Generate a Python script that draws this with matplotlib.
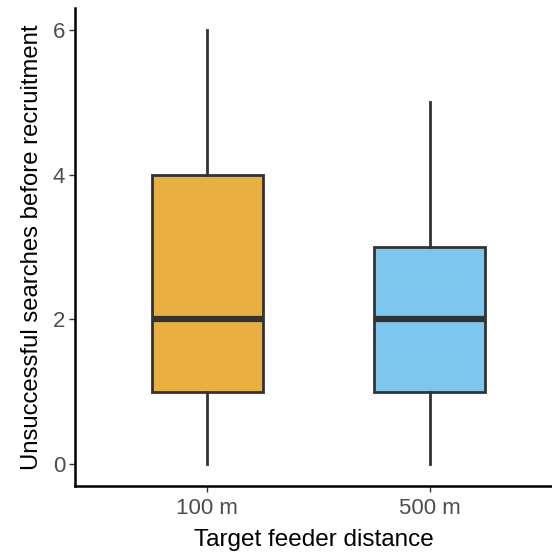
import matplotlib
matplotlib.use("Agg")
import matplotlib.pyplot as plt

# %% Data
groups = ["100 m", "500 m"]
whislo = [0, 0]
q1 = [1, 1]
med = [2, 2]
q3 = [4, 3]
whishi = [6, 5]
fills = ["#EAAF41", "#7DC7EE"]

plt.rcParams["font.family"] = ["Liberation Sans", "DejaVu Sans"]

# %% Plot
fig = plt.figure(figsize=(5.52, 5.55), dpi=100)
ax = fig.add_axes([75 / 552, 69 / 555, 477 / 552, 478 / 555])

stats = [
    dict(label=g, whislo=a, q1=b, med=c, q3=d, whishi=e, fliers=[])
    for g, a, b, c, d, e in zip(groups, whislo, q1, med, q3, whishi)
]
line_col = "#333333"
bp = ax.bxp(
    stats, positions=[1, 2], widths=0.5, showcaps=False, patch_artist=True,
    boxprops=dict(edgecolor=line_col, linewidth=2.0),
    whiskerprops=dict(color=line_col, linewidth=2.0),
    medianprops=dict(color=line_col, linewidth=4.5, solid_capstyle="butt"),
)
for patch, col in zip(bp["boxes"], fills):
    patch.set_facecolor(col)

ax.set_xlim(0.405, 2.55)
ax.set_ylim(-0.3, 6.3)
ax.set_yticks([0, 2, 4, 6])
ax.set_xticks([1, 2])
ax.set_xticklabels(groups)

for side in ["top", "right"]:
    ax.spines[side].set_visible(False)
for side in ["left", "bottom"]:
    ax.spines[side].set_linewidth(1.8)
    ax.spines[side].set_color("black")

ax.tick_params(axis="both", colors="#333333", labelcolor="#4D4D4D",
               labelsize=16, length=4, width=1, pad=3)
ax.tick_params(axis="x", pad=5)
ax.set_xlabel("Target feeder distance", fontsize=17.5, labelpad=7)
ax.set_ylabel("Unsuccessful searches before recruitment", fontsize=17.2, labelpad=7)

fig.savefig("out.png", dpi=100)
